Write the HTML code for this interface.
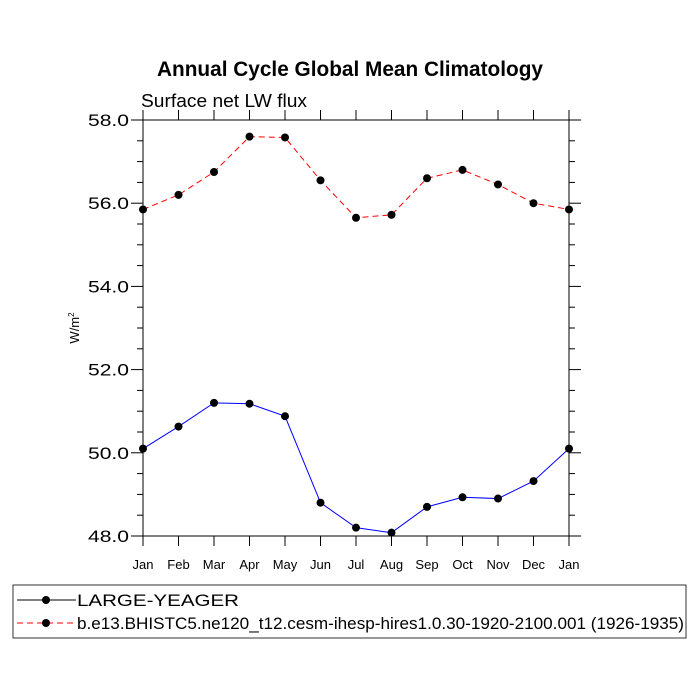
<!DOCTYPE html>
<html><head><meta charset="utf-8"><style>
body{margin:0;background:#fff;}
svg{font-family:"Liberation Sans",sans-serif;display:block;}
</style></head><body>
<svg id="chart" width="700" height="700" viewBox="0 0 700 700">
<rect width="700" height="700" fill="#fff"/>
<text x="157" y="76" textLength="386" lengthAdjust="spacingAndGlyphs" font-size="21" font-weight="bold">Annual Cycle Global Mean Climatology</text>
<text x="141" y="107" textLength="166" lengthAdjust="spacingAndGlyphs" font-size="18">Surface net LW flux</text>
<text transform="translate(79,328) rotate(-90)" text-anchor="middle" font-size="13">W/m<tspan dy="-5" font-size="8">2</tspan></text>
<g id="axes"></g>
<g id="series"></g>
<g>
<rect x="13" y="585" width="673" height="53" fill="#fff" stroke="#000" stroke-width="0.8"/>
<line x1="17" y1="600" x2="76" y2="600" stroke="#000" stroke-width="1"/>
<circle cx="46" cy="600" r="4" fill="#000"/>
<text x="77" y="606" textLength="162" lengthAdjust="spacingAndGlyphs" font-size="17">LARGE-YEAGER</text>
<line x1="17" y1="623" x2="76" y2="623" stroke="#f00" stroke-width="1" stroke-dasharray="6,4"/>
<circle cx="46" cy="623" r="4" fill="#000"/>
<text x="77" y="629" textLength="607" lengthAdjust="spacingAndGlyphs" font-size="17">b.e13.BHISTC5.ne120_t12.cesm-ihesp-hires1.0.30-1920-2100.001 (1926-1935)</text>
</g>
</svg>
<script>
const months = ["Jan","Feb","Mar","Apr","May","Jun","Jul","Aug","Sep","Oct","Nov","Dec","Jan"];
const largeYeager = [50.1,50.63,51.2,51.18,50.88,48.8,48.2,48.08,48.7,48.93,48.9,49.32,50.1];
const bhist = [55.85,56.2,56.75,57.6,57.58,56.55,55.65,55.72,56.6,56.8,56.45,56.0,55.85];
const yTicks = [48,50,52,54,56,58];
const yMin = 48, yMax = 58;
const X0=143, X1=569, Y0=536, Y1=120;
const NS="http://www.w3.org/2000/svg";
function xs(i){return X0+(X1-X0)*i/(months.length-1);}
function ys(v){return Y0-(v-yMin)/(yMax-yMin)*(Y0-Y1);}
function mk(t,a,p){const e=document.createElementNS(NS,t);for(const k in a)e.setAttribute(k,a[k]);p.appendChild(e);return e;}
const ax=document.getElementById('axes');
const frame=mk('rect',{x:X0,y:Y1,width:X1-X0,height:Y0-Y1,fill:'none',stroke:'#000','stroke-width':1},ax);


yTicks.forEach(v=>{
  const y=ys(v);
  mk('line',{x1:X0-12,y1:y,x2:X0,y2:y,stroke:'#000'},ax);
  mk('line',{x1:X1,y1:y,x2:X1+12,y2:y,stroke:'#000'},ax);
  const t=mk('text',{x:88,y:y+6,textLength:41,lengthAdjust:'spacingAndGlyphs','font-size':17},ax);
  t.textContent=v.toFixed(1);
  
  
});
for(let v=yMin;v<=yMax;v+=0.5){
  if(Math.abs(v-Math.round(v/2)*2)<1e-6)continue;
  const y=ys(v);
  mk('line',{x1:X0-6,y1:y,x2:X0,y2:y,stroke:'#000'},ax);
  mk('line',{x1:X1,y1:y,x2:X1+6,y2:y,stroke:'#000'},ax);
}
months.forEach((m,i)=>{
  const x=xs(i);
  mk('line',{x1:x,y1:Y0,x2:x,y2:Y0+10,stroke:'#000'},ax);
  mk('line',{x1:x,y1:Y1-10,x2:x,y2:Y1,stroke:'#000'},ax);
  const t=mk('text',{x:x,y:Y0+33,'text-anchor':'middle','font-size':13},ax);
  t.textContent=m;
  
  
});
const sg=document.getElementById('series');
function series(vals,color,dash,name){
  const pts=vals.map((v,i)=>xs(i)+','+ys(v)).join(' ');
  const pl=mk('polyline',{points:pts,fill:'none',stroke:color,'stroke-width':1,'stroke-dasharray':dash},sg);
  
  
  vals.forEach((v,i)=>{
    const c=mk('circle',{cx:xs(i),cy:ys(v),r:4,fill:'#000'},sg);
    
    
  });
}
series(bhist,'#f00','6,4','bhist');
series(largeYeager,'#00f','none','large-yeager');
</script>
</body></html>
